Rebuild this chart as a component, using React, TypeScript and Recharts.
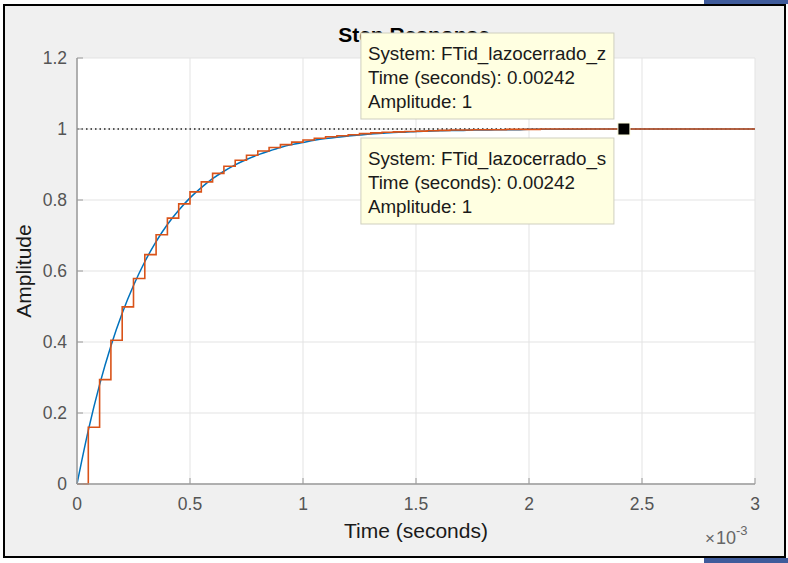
import React from 'react';
import { LineChart, Line, XAxis, YAxis, CartesianGrid, ReferenceDot } from 'recharts';

// Closed-loop step response of FTid_lazocerrado (continuous "s" and sampled "z" versions)
const SAMPLE_TIME = 0.00005; // seconds

// Continuous-time response read at each sampling instant k * SAMPLE_TIME, k = 0..60 (0 .. 3 ms)
const continuousAmplitude = [
  0, 0.151, 0.28, 0.389, 0.481, 0.559, 0.626, 0.683, 0.731, 0.771,
  0.806, 0.835, 0.86, 0.881, 0.899, 0.914, 0.927, 0.938, 0.948, 0.956,
  0.962, 0.968, 0.973, 0.977, 0.98, 0.983, 0.986, 0.988, 0.99, 0.991,
  0.993, 0.994, 0.995, 0.996, 0.996, 0.997, 0.997, 0.998, 0.998, 0.998,
  0.999, 0.999, 0.999, 0.999, 0.999, 1, 1, 1, 1, 1,
  1, 1, 1, 1, 1, 1, 1, 1, 1, 1,
  1,
];

// Discrete-time (held) response, one value per sample k = 0..60
const discreteAmplitude = [
  0, 0.16, 0.294, 0.405, 0.499, 0.579, 0.646, 0.702, 0.749, 0.789,
  0.823, 0.851, 0.875, 0.895, 0.912, 0.926, 0.938, 0.948, 0.956, 0.963,
  0.969, 0.974, 0.978, 0.981, 0.984, 0.987, 0.989, 0.991, 0.992, 0.993,
  0.994, 0.995, 0.996, 0.997, 0.997, 0.998, 0.998, 0.998, 0.999, 0.999,
  0.999, 1, 1, 1, 1, 1, 1, 1, 1, 1,
  1, 1, 1, 1, 1, 1, 1, 1, 1, 1,
  1,
];

const steadyStateTimes = [0, 0.003];
const steadyStateValue = 1;

const xTicks = [0, 0.0005, 0.001, 0.0015, 0.002, 0.0025, 0.003];
const xTickLabels = ['0', '0.5', '1', '1.5', '2', '2.5', '3'];
const yTicks = [0, 0.2, 0.4, 0.6, 0.8, 1, 1.2];
const yTickLabels = ['0', '0.2', '0.4', '0.6', '0.8', '1', '1.2'];

const dataTipTime = 0.00242;
const dataTipAmplitude = 1;
const dataTipSystems = ['FTid_lazocerrado_z', 'FTid_lazocerrado_s'];

const rows = discreteAmplitude.map((z, k) => ({ t: k * SAMPLE_TIME, s: continuousAmplitude[k], z }));
const steadyRows = steadyStateTimes.map((t) => ({ t, y: steadyStateValue }));

const FONT = '"Liberation Sans", Arial, Helvetica, sans-serif';
const AXIS = '#9a9a9a';
const TICK_TEXT = '#555555';
const BLUE = '#0072bd';
const ORANGE = '#d95319';
const TIP_FILL = '#ffffe1';
const TIP_STROKE = '#cfcfbf';

const BottomTick = (props: any) => {
  const { x, y, index } = props;
  return (
    <g>
      <line x1={x} x2={x} y1={y} y2={y - 6} stroke={AXIS} strokeWidth={1} />
      <text x={x} y={y + 26} textAnchor="middle" fontSize={17.5} fontFamily={FONT} fill={TICK_TEXT}>
        {xTickLabels[index]}
      </text>
    </g>
  );
};

const LeftTick = (props: any) => {
  const { x, y, index } = props;
  return (
    <g>
      <line x1={x} x2={x + 6} y1={y} y2={y} stroke={AXIS} strokeWidth={1} />
      <text x={x - 10} y={y + 6} textAnchor="end" fontSize={17.5} fontFamily={FONT} fill={TICK_TEXT}>
        {yTickLabels[index]}
      </text>
    </g>
  );
};

const TopTick = (props: any) => {
  const { x, y } = props;
  return <line x1={x} x2={x} y1={y} y2={y + 6} stroke="#555" strokeWidth={1} />;
};

const RightTick = (props: any) => {
  const { x, y } = props;
  return <line x1={x} x2={x - 6} y1={y} y2={y} stroke="#555" strokeWidth={1} />;
};

const TipBox = ({ x, y, system }: { x: number; y: number; system: string }) => (
  <g>
    <rect x={x} y={y} width={253} height={86} fill={TIP_FILL} stroke={TIP_STROKE} strokeWidth={1} />
    <g fontFamily={FONT} fontSize={18.8} fill="#1a1a1a">
      <text x={x + 7} y={y + 27}>{`System: ${system}`}</text>
      <text x={x + 7} y={y + 51}>{`Time (seconds): ${dataTipTime}`}</text>
      <text x={x + 7} y={y + 75}>{`Amplitude: ${dataTipAmplitude}`}</text>
    </g>
  </g>
);

const DataTips = (props: any) => {
  const { cx, cy } = props;
  return (
    <g>
      <TipBox x={cx - 263} y={cy - 96} system={dataTipSystems[0]} />
      <TipBox x={cx - 263} y={cy + 9} system={dataTipSystems[1]} />
      <rect x={cx - 6} y={cy - 6} width={12} height={12} fill="#000" stroke={TIP_FILL} strokeWidth={1} />
    </g>
  );
};

const TimeLabel = (props: any) => {
  const { viewBox } = props;
  const cx = viewBox.x + viewBox.width / 2;
  return (
    <text x={cx} y={538} textAnchor="middle" fontSize={21} fontFamily={FONT} fill="#1a1a1a">
      Time (seconds)
    </text>
  );
};

const AmplitudeLabel = (props: any) => {
  const { viewBox } = props;
  const cy = viewBox.y + viewBox.height / 2;
  return (
    <text
      x={31}
      y={cy}
      textAnchor="middle"
      fontSize={21}
      fontFamily={FONT}
      fill="#1a1a1a"
      transform={`rotate(-90, 31, ${cy})`}
    >
      Amplitude
    </text>
  );
};

export default function App() {
  return (
    <div style={{ position: 'absolute', left: 0, top: 0, width: 788, height: 563, background: '#fff', overflow: 'hidden' }}>
      <div style={{ position: 'absolute', left: 704, top: 0, width: 84, height: 4, background: '#3f5b9b' }} />
      <div style={{ position: 'absolute', left: 704, top: 558, width: 84, height: 5, background: '#3f5b9b' }} />
      <div
        style={{
          position: 'absolute',
          left: 3,
          top: 4,
          width: 783,
          height: 554,
          boxSizing: 'border-box',
          border: '2px solid #000',
          background: '#f0f0f0',
        }}
      />
      <svg style={{ position: 'absolute', left: 0, top: 0 }} width={788} height={563}>
        <text x={414} y={42} textAnchor="middle" fontSize={21} fontWeight="bold" fontFamily={FONT} fill="#000">
          Step Response
        </text>
        <g fontFamily={FONT} fill="#666">
          <text x={705} y={544} fontSize={17}>×</text>
          <text x={716} y={544} fontSize={18}>10</text>
          <text x={736} y={535} fontSize={13}>-3</text>
        </g>
      </svg>
      <div style={{ position: 'absolute', left: 0, top: 0 }}>
        <LineChart
          width={788}
          height={563}
          data={rows}
          margin={{ top: 58, right: 33, bottom: 0, left: 0 }}
        >
          <CartesianGrid
            stroke="#e3e3e3"
            strokeWidth={1}
            fill="#ffffff"
            horizontalValues={yTicks}
            verticalValues={xTicks}
          />
          <XAxis
            dataKey="t"
            type="number"
            domain={[0, 0.003]}
            ticks={xTicks}
            interval={0}
            height={79}
            tickSize={0}
            tickMargin={0}
            tickLine={false}
            tick={<BottomTick />}
            axisLine={{ stroke: AXIS, strokeWidth: 1.5 }}
            label={<TimeLabel />}
          />
          <XAxis
            xAxisId="top"
            orientation="top"
            dataKey="t"
            type="number"
            domain={[0, 0.003]}
            ticks={xTicks}
            interval={0}
            height={0}
            tickSize={0}
            tickMargin={0}
            tickLine={false}
            tick={<TopTick />}
            axisLine={{ stroke: AXIS, strokeWidth: 1.5 }}
          />
          <YAxis
            type="number"
            domain={[0, 1.2]}
            ticks={yTicks}
            interval={0}
            width={77}
            tickSize={0}
            tickMargin={0}
            tickLine={false}
            tick={<LeftTick />}
            axisLine={{ stroke: AXIS, strokeWidth: 1.5 }}
            label={<AmplitudeLabel />}
          />
          <YAxis
            yAxisId="right"
            orientation="right"
            type="number"
            domain={[0, 1.2]}
            ticks={yTicks}
            interval={0}
            width={0}
            tickSize={0}
            tickMargin={0}
            tickLine={false}
            tick={<RightTick />}
            axisLine={{ stroke: AXIS, strokeWidth: 1.5 }}
          />
          <Line
            data={steadyRows}
            dataKey="y"
            type="linear"
            stroke="#222"
            strokeWidth={1.5}
            strokeDasharray="1.5 3"
            dot={false}
            activeDot={false}
            isAnimationActive={false}
          />
          <Line
            dataKey="s"
            type="monotone"
            stroke={BLUE}
            strokeWidth={1.5}
            dot={false}
            activeDot={false}
            isAnimationActive={false}
          />
          <Line
            dataKey="z"
            type="stepAfter"
            stroke={ORANGE}
            strokeWidth={1.6}
            dot={false}
            activeDot={false}
            isAnimationActive={false}
          />
          <ReferenceDot x={dataTipTime} y={dataTipAmplitude} shape={<DataTips />} ifOverflow="visible" />
        </LineChart>
      </div>
    </div>
  );
}
